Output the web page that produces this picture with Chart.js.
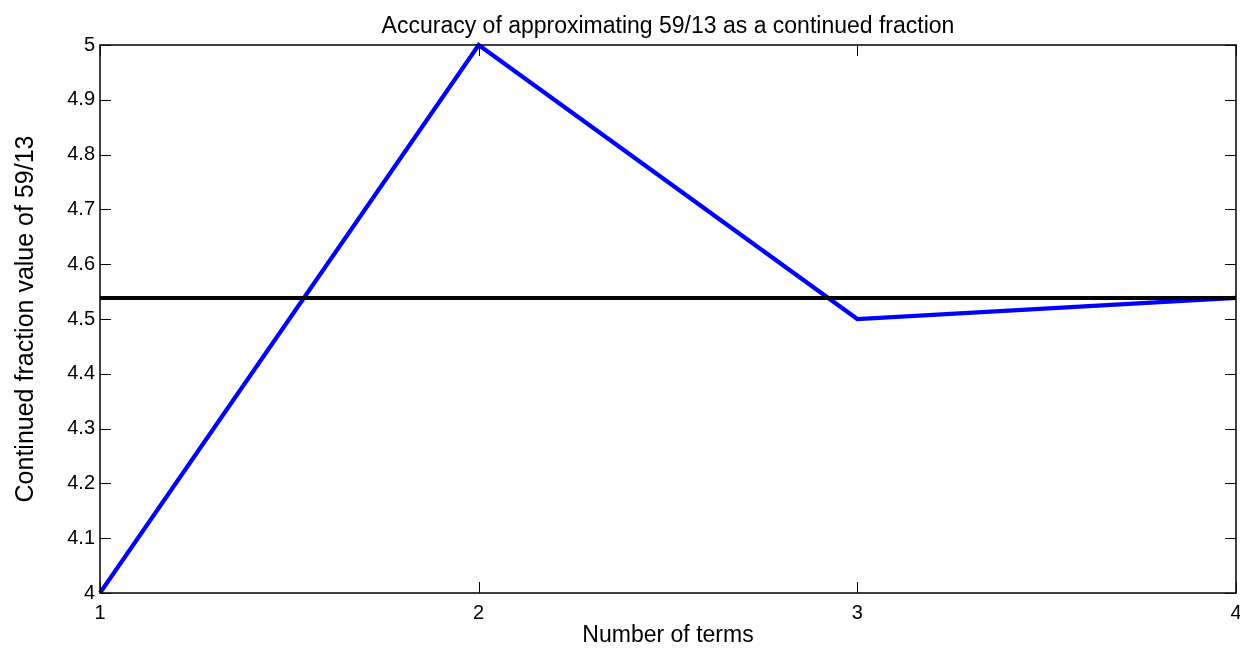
<!DOCTYPE html>
<html>
<head>
<meta charset="utf-8">
<title>Accuracy of approximating 59/13 as a continued fraction</title>
<script src="https://cdn.jsdelivr.net/npm/chart.js@4.4.1/dist/chart.umd.min.js"></script>
<style>
  html, body { margin: 0; padding: 0; background: #ffffff; }
  canvas { display: block; }
</style>
</head>
<body>
<canvas id="cf" width="1240" height="648"></canvas>
<script>
// Number of terms kept in the continued fraction [4; 1, 1, 6]
const terms = [1, 2, 3, 4];
// Value of each convergent: 4, 5, 9/2, 59/13
const convergents = [4, 5, 4.5, 4.5385];
// Exact value 59/13, drawn as a reference line across the plot
const exactValue = 4.5385;
const exactSpan = [1, 4];

const xTickValues = [1, 2, 3, 4];
const xTickLabels = ['1', '2', '3', '4'];
const yTickValues = [4, 4.1, 4.2, 4.3, 4.4, 4.5, 4.6, 4.7, 4.8, 4.9, 5];
const yTickLabels = ['4', '4.1', '4.2', '4.3', '4.4', '4.5', '4.6', '4.7', '4.8', '4.9', '5'];

const FONT = 'Liberation Sans, Arial, Helvetica, sans-serif';

// Box around the axes plus short inward tick marks on all four sides
const boxedAxes = {
  id: 'boxedAxes',
  afterDatasetsDraw(chart) {
    const { ctx, chartArea: a, scales } = chart;
    const len = 11;
    ctx.save();
    ctx.strokeStyle = '#000';
    ctx.lineWidth = 1;
    ctx.beginPath();
    scales.y.ticks.forEach(t => {
      const py = Math.round(scales.y.getPixelForValue(t.value)) + 0.5;
      ctx.moveTo(a.left, py); ctx.lineTo(a.left + len, py);
      ctx.moveTo(a.right, py); ctx.lineTo(a.right - len, py);
    });
    scales.x.ticks.forEach(t => {
      const px = Math.round(scales.x.getPixelForValue(t.value)) + 0.5;
      ctx.moveTo(px, a.bottom); ctx.lineTo(px, a.bottom - len);
      ctx.moveTo(px, a.top); ctx.lineTo(px, a.top + len);
    });
    ctx.stroke();
    ctx.lineWidth = 1.6;
    ctx.strokeStyle = '#111';
    ctx.strokeRect(a.left, a.top, a.right - a.left, a.bottom - a.top);
    ctx.restore();
  }
};

new Chart(document.getElementById('cf'), {
  type: 'line',
  data: {
    datasets: [
      {
        label: '59/13',
        data: exactSpan.map(x => ({ x, y: exactValue })),
        borderColor: '#000000',
        borderWidth: 4,
        pointRadius: 0,
        order: 0,
        clip: false
      },
      {
        label: 'Convergents',
        data: terms.map((x, i) => ({ x, y: convergents[i] })),
        borderColor: '#0000ff',
        borderWidth: 4.2,
        pointRadius: 0,
        tension: 0,
        order: 1,
        clip: false
      }
    ]
  },
  plugins: [boxedAxes],
  options: {
    responsive: false,
    animation: false,
    events: [],
    layout: { padding: { left: 0, right: 4, top: 0, bottom: 0 } },
    plugins: {
      legend: { display: false },
      tooltip: { enabled: false },
      title: {
        display: true,
        fullSize: false,
        text: 'Accuracy of approximating 59/13 as a continued fraction',
        color: '#000',
        font: { family: FONT, size: 23, weight: 'normal', lineHeight: 1.2 },
        padding: { top: 13, bottom: 4.4 }
      }
    },
    scales: {
      x: {
        type: 'linear',
        min: 1,
        max: 4,
        afterBuildTicks: s => { s.ticks = xTickValues.map(v => ({ value: v })); },
        afterFit: s => { s.height = 55; s.paddingLeft = 0; s.paddingRight = 0; },
        grid: { display: false, drawTicks: false },
        border: { display: false },
        ticks: {
          color: '#000',
          font: { family: FONT, size: 20 },
          padding: 8,
          maxRotation: 0,
          callback: (v, i) => xTickLabels[i]
        },
        title: {
          display: true,
          text: 'Number of terms',
          color: '#000',
          font: { family: FONT, size: 23, lineHeight: 1.05 },
          padding: { top: 0, bottom: 0 }
        }
      },
      y: {
        type: 'linear',
        min: 4,
        max: 5,
        afterBuildTicks: s => { s.ticks = yTickValues.map(v => ({ value: v })); },
        afterFit: s => { s.width = 100; s.paddingTop = 0; s.paddingBottom = 0; },
        grid: { display: false, drawTicks: false },
        border: { display: false },
        ticks: {
          color: '#000',
          font: { family: FONT, size: 20 },
          padding: 5,
          callback: (v, i) => yTickLabels[i]
        },
        title: {
          display: true,
          text: 'Continued fraction value of 59/13',
          color: '#000',
          font: { family: FONT, size: 25, lineHeight: 1.2 },
          padding: { top: 11, bottom: 0 }
        }
      }
    }
  }
});
</script>
</body>
</html>
